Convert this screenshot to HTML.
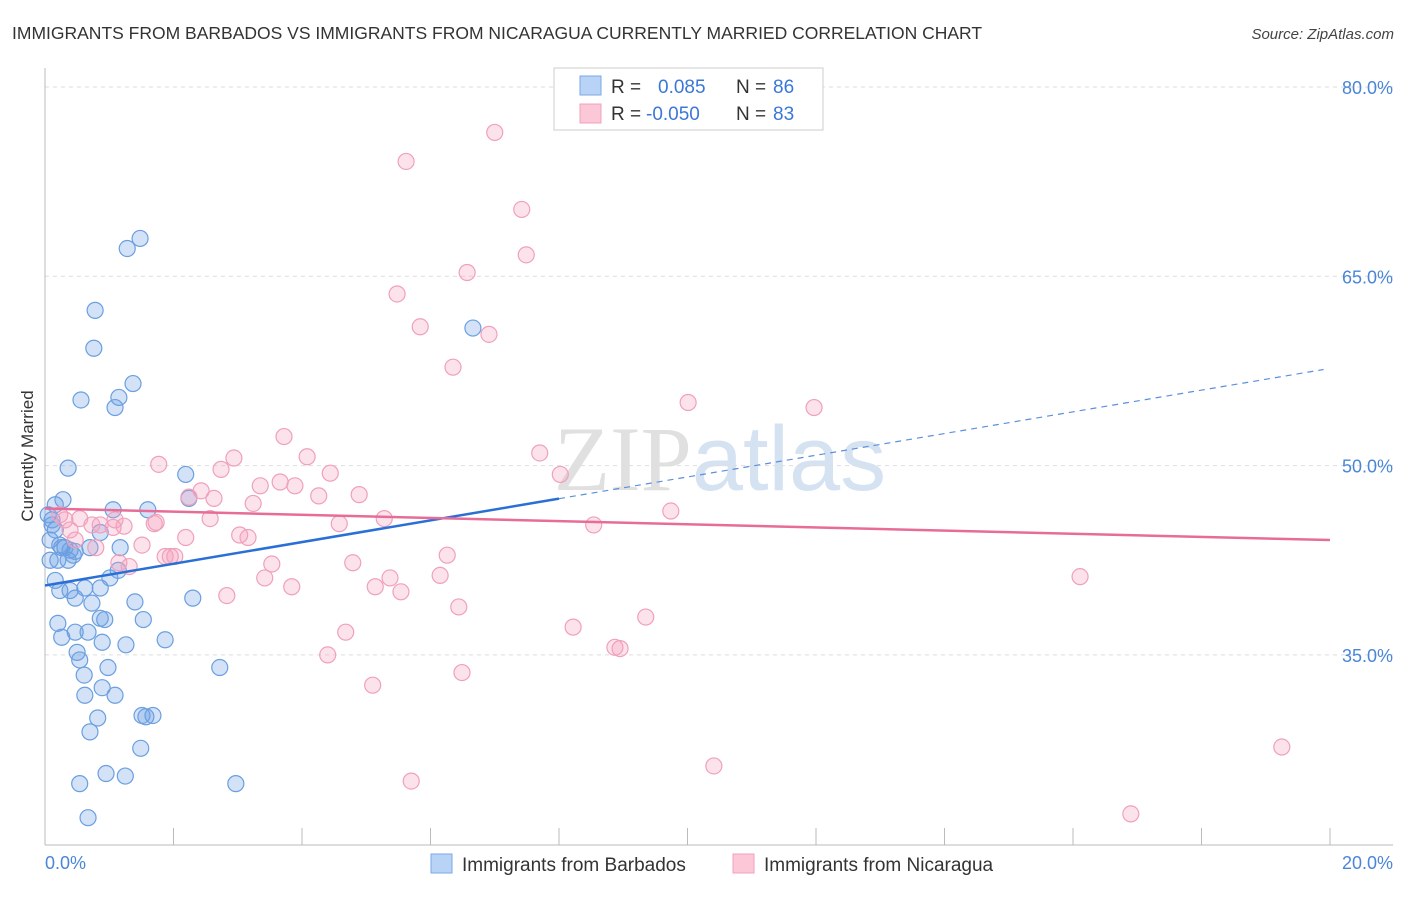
<!DOCTYPE html>
<html><head><meta charset="utf-8"><style>
body{margin:0;background:#fff;font-family:"Liberation Sans",sans-serif;}
svg text{font-family:"Liberation Sans",sans-serif;}
</style></head><body>
<svg id="chart" width="1406" height="892" xmlns="http://www.w3.org/2000/svg">
<text x="12" y="39" font-size="17.5" fill="#333">IMMIGRANTS FROM BARBADOS VS IMMIGRANTS FROM NICARAGUA CURRENTLY MARRIED CORRELATION CHART</text>
<text x="1394" y="39" font-size="15" fill="#444" text-anchor="end" font-style="italic">Source: ZipAtlas.com</text>
<text x="720" y="490" font-size="92" text-anchor="middle" fill="#d8d8d8" opacity="0.6"><tspan font-family="Liberation Serif" fill="#ccc">ZIP</tspan><tspan fill="#b8cfe8">atlas</tspan></text>
<g id="grid"></g>
<g id="axes"></g>
<g id="points"></g>
<g id="trends"></g>
<text transform="translate(33,456) rotate(-90)" font-size="17" fill="#333" text-anchor="middle">Currently Married</text>
<g>
<rect x="554" y="68" width="269" height="62" fill="#fff" stroke="#ccc"/>
<rect x="580" y="76" width="21" height="19" fill="#b8d3f5" stroke="#7aa8e6"/>
<rect x="580" y="104" width="21" height="19" fill="#fcc8d8" stroke="#f0a0bc"/>
<text x="611" y="93" font-size="19" fill="#333">R = </text><text x="658" y="93" font-size="19" fill="#3a78d8">0.085</text>
<text x="736" y="93" font-size="19" fill="#333">N = </text><text x="773" y="93" font-size="19" fill="#3a78d8">86</text>
<text x="611" y="120" font-size="19" fill="#333">R = </text><text x="646" y="120" font-size="19" fill="#3a78d8">-0.050</text>
<text x="736" y="120" font-size="19" fill="#333">N = </text><text x="773" y="120" font-size="19" fill="#3a78d8">83</text>
</g>
<g>
<rect x="431" y="854" width="21" height="19" fill="#b8d3f5" stroke="#7aa8e6"/>
<text x="462" y="871" font-size="19" fill="#333">Immigrants from Barbados</text>
<rect x="733" y="854" width="21" height="19" fill="#fcc8d8" stroke="#f0a0bc"/>
<text x="764" y="871" font-size="19" fill="#333">Immigrants from Nicaragua</text>
</g>
</svg>
<script>
const blueX=[1.48,1.28,0.78,0.76,1.37,0.56,1.15,1.09,0.36,2.19,6.66,0.28,0.16,1.06,1.60,2.24,0.86,1.17,0.11,0.16,0.23,0.31,0.39,0.47,0.20,0.36,0.44,0.08,0.16,0.23,0.39,0.47,0.62,0.86,1.01,1.14,2.30,0.73,1.40,0.86,0.93,1.53,0.20,0.47,0.67,0.26,0.89,1.26,1.87,0.50,0.54,0.98,0.61,2.72,0.62,1.09,0.89,0.82,1.51,1.68,1.57,0.70,1.49,0.54,0.95,1.25,2.97,0.67,0.08,0.11,0.05,0.70,0.26];
const blueY=[68.0,67.2,62.3,59.3,56.5,55.2,55.4,54.6,49.8,49.3,60.9,47.3,46.9,46.5,46.5,47.4,44.7,43.5,45.7,44.9,43.7,43.5,43.3,43.2,42.5,42.5,42.9,42.5,40.9,40.1,40.1,39.5,40.3,40.3,41.1,41.7,39.5,39.1,39.2,37.9,37.8,37.8,37.5,36.8,36.8,36.4,36.0,35.8,36.2,35.2,34.6,34.0,33.4,34.0,31.8,31.8,32.4,30.0,30.2,30.2,30.1,28.9,27.6,24.8,25.6,25.4,24.8,22.1,44.1,45.3,46.1,43.5,43.5];
const pinkX=[7.00,5.62,7.42,7.49,6.57,5.48,5.84,6.91,6.35,10.01,11.97,3.72,7.70,1.77,2.94,4.08,2.74,4.44,8.02,3.66,3.89,3.35,2.43,4.89,4.26,2.24,2.63,3.24,9.74,5.28,2.57,1.70,1.23,4.58,8.54,0.54,0.73,0.31,0.39,3.03,3.16,2.19,1.06,1.51,0.79,1.87,2.02,6.26,4.79,3.53,1.15,1.31,6.15,5.37,3.42,5.14,5.54,3.84,16.11,2.83,6.44,9.35,8.22,4.68,8.87,8.95,4.40,6.49,5.10,19.25,10.41,5.70,16.90,1.09,0.23,0.47,0.86,1.73,1.95];
const pinkY=[76.4,74.1,70.3,66.7,65.3,63.6,61.0,60.4,57.8,55.0,54.6,52.3,51.0,50.1,50.6,50.7,49.7,49.4,49.3,48.7,48.4,48.4,48.0,47.7,47.6,47.5,47.4,47.0,46.4,45.8,45.8,45.4,45.2,45.4,45.3,45.8,45.3,45.7,44.9,44.5,44.3,44.3,45.1,43.7,43.5,42.8,42.8,42.9,42.3,42.2,42.3,42.0,41.3,41.1,41.1,40.4,40.0,40.4,41.2,39.7,38.8,38.0,37.2,36.8,35.6,35.5,35.0,33.6,32.6,27.7,26.2,25.0,22.4,45.7,46.1,44.1,45.3,45.5,42.8];
const yTicks=[80,65,50,35];
const yTickLabels=["80.0%","65.0%","50.0%","35.0%"];
const xTicks=[0,2,4,6,8,10,12,14,16,18,20];
const xEndLabels=["0.0%","20.0%"];
const blueTrend=[40.5,0.86]; // intercept, slope
const blueSolidEnd=[8];
const pinkTrend=[46.6,-0.125];

const NS="http://www.w3.org/2000/svg";
const xs=v=>45+v*64.25;
const ys=v=>87+(80-v)*12.62;
function mk(tag,attrs,parent){const e=document.createElementNS(NS,tag);for(const k in attrs)e.setAttribute(k,attrs[k]);document.getElementById(parent).appendChild(e);return e;}

yTicks.forEach((t,i)=>{
  const g=mk('line',{x1:45,x2:1393,y1:ys(t),y2:ys(t),stroke:'#ddd','stroke-dasharray':'4,4'},'grid');
  
  
  const l=mk('text',{x:1393,y:ys(t)+7,'font-size':18,fill:'#4a86d8','text-anchor':'end'},'axes');
  l.textContent=yTickLabels[i];
  
  
});
const ya=mk('line',{x1:45,x2:45,y1:68,y2:845,stroke:'#bbb'},'axes');


const xa=mk('line',{x1:45,x2:1393,y1:845,y2:845,stroke:'#bbb'},'axes');


xTicks.forEach(t=>{
  const tk=mk('line',{x1:xs(t),x2:xs(t),y1:828,y2:845,stroke:'#bbb'},'axes');
  
  
});
[[0,'start',45],[20,'end',1393]].forEach((d,i)=>{
  const l=mk('text',{x:d[2],y:869,'font-size':18,fill:'#4a86d8','text-anchor':d[1]},'axes');
  l.textContent=xEndLabels[i];
  
  
});
blueX.forEach((x,i)=>{
  const c=mk('circle',{cx:xs(x),cy:ys(blueY[i]),r:8,fill:'rgba(110,160,230,0.3)',stroke:'#6a9fe0','stroke-width':1.2},'points');
  
  
});
pinkX.forEach((x,i)=>{
  const c=mk('circle',{cx:xs(x),cy:ys(pinkY[i]),r:8,fill:'rgba(245,160,190,0.3)',stroke:'#f0a0bc','stroke-width':1.2},'points');
  
  
});
const bf=x=>blueTrend[0]+blueTrend[1]*x;
const b1=mk('line',{x1:xs(0),y1:ys(bf(0)),x2:xs(blueSolidEnd[0]),y2:ys(bf(blueSolidEnd[0])),stroke:'#2a6fd6','stroke-width':2.5},'trends');


const b2=mk('line',{x1:xs(blueSolidEnd[0]),y1:ys(bf(blueSolidEnd[0])),x2:xs(19.9),y2:ys(bf(19.9)),stroke:'#5b90dc','stroke-width':1.2,'stroke-dasharray':'6,5'},'trends');


const pf=x=>pinkTrend[0]+pinkTrend[1]*x;
const p1=mk('line',{x1:xs(0),y1:ys(pf(0)),x2:xs(20),y2:ys(pf(20)),stroke:'#e86c98','stroke-width':2.5},'trends');


</script>
</body></html>
